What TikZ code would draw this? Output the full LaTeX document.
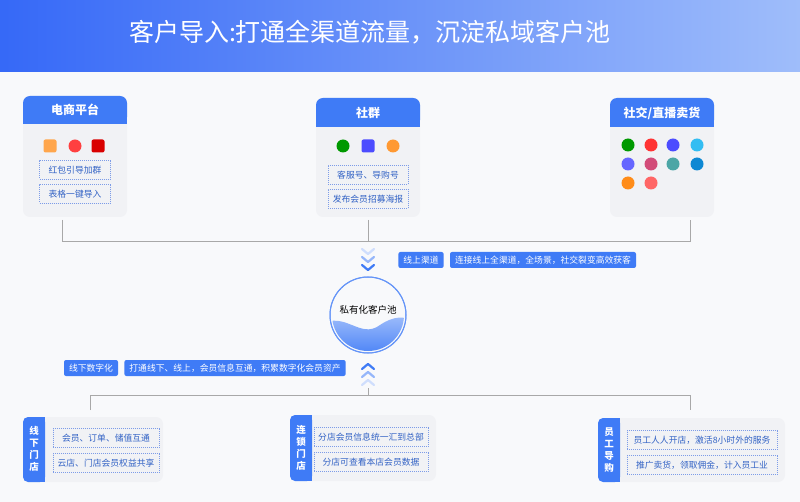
\documentclass[tikz,border=0pt]{standalone}
\usepackage{fontspec}
\setmainfont{Noto Sans CJK SC}
\usetikzlibrary{positioning, calc, shapes.geometric}
\definecolor{mainblue}{HTML}{3F7BF6}
\definecolor{cardgray}{HTML}{F1F2F5}
\definecolor{pagegray}{HTML}{F8F9FB}
\definecolor{linegray}{HTML}{A8A8A8}
\definecolor{dashblue}{HTML}{7D9CE8}
\tikzset{
  card/.style={fill=cardgray, rounded corners=7pt},
  tagbox/.style={draw=dashblue, dashed, dash pattern=on 1pt off 1pt, text=mainblue!80!black, font=\fontsize{8.8}{9}\selectfont, minimum height=19pt, inner xsep=4pt},
  bluetag/.style={fill=mainblue, text=white, rounded corners=2pt, font=\fontsize{8.8}{9}\selectfont, minimum height=16pt, inner xsep=5pt},
  link/.style={draw=linegray, line width=0.8pt},
  chev/.style={line width=2.2pt, line cap=round, line join=round},
  icon/.style={minimum size=13pt, inner sep=0pt, rounded corners=2pt}
}
\begin{document}
\begin{tikzpicture}[x=1pt, y=-1pt]
    \useasboundingbox (0,0) rectangle (800,502);
    \fill[pagegray] (0,0) rectangle (800,502);
    \shade[left color=mainblue!85!blue, right color=mainblue!50!white] (0,0) rectangle (800,72);
    \node[text=white, font=\fontsize{25}{25}\selectfont] (title) at (370,32) {客户导入:打通全渠道流量，沉淀私域客户池};

    % top cards
    \fill[card] (23,96) rectangle (127,217);
    \fill[mainblue, rounded corners=7pt] (23,96) rectangle (127,124);
    \fill[mainblue] (23,112) rectangle (127,124);
    \node[text=white, font=\fontsize{12}{12}\selectfont\bfseries] (mall) at (75,110) {电商平台};
    \node[icon, fill=orange!70] (i1) at (50,146) {};
    \node[icon, circle, fill=red!75] (i2) at (75,146) {};
    \node[icon, fill=red!85!black] (i3) at (98,146) {};
    \node[tagbox, minimum width=71pt] (mall1) at (75,170) {红包引导加群};
    \node[tagbox, minimum width=71pt] (mall2) at (75,194) {表格一键导入};

    \fill[card] (316,98) rectangle (420,217);
    \fill[mainblue, rounded corners=7pt] (316,98) rectangle (420,127);
    \fill[mainblue] (316,114) rectangle (420,127);
    \node[text=white, font=\fontsize{12}{12}\selectfont\bfseries] (group) at (368,113) {社群};
    \node[icon, circle, fill=green!60!black] (i4) at (343,146) {};
    \node[icon, fill=blue!70] (i5) at (368,146) {};
    \node[icon, circle, fill=orange!80] (i6) at (393,146) {};
    \node[tagbox, minimum width=80pt] (group1) at (368,175) {客服号、导购号};
    \node[tagbox, minimum width=80pt] (group2) at (368,199) {发布会员招募海报};

    \fill[card] (610,98) rectangle (714,217);
    \fill[mainblue, rounded corners=7pt] (610,98) rectangle (714,127);
    \fill[mainblue] (610,114) rectangle (714,127);
    \node[text=white, font=\fontsize{12}{12}\selectfont\bfseries] (social) at (662,113) {社交/直播卖货};
    \foreach \x/\y/\c [count=\k] in {628/145/green!60!black, 651/145/red!80, 673/145/blue!70, 697/145/cyan!80,
        628/164/blue!60, 651/164/purple!70, 673/164/teal!70, 697/164/cyan!70!blue,
        628/183/orange!90, 651/183/red!60}
      \node[icon, circle, fill=\c] (s\k) at (\x,\y) {};

    % collector lines
    \coordinate (ta) at (62,241);
    \coordinate (tb) at (368,241);
    \coordinate (tc) at (690,241);
    \draw[link] (62,220) -- (ta) -- (tc) -- (690,220);
    \draw[link] (368,220) -- (tb);

    % pool
    \node[circle, draw=mainblue!80, line width=1pt, minimum size=76pt] (pool) at (368,315) {};
    \begin{scope}
      \clip (pool.center) circle (36pt);
      \shade[top color=mainblue!45, bottom color=mainblue] (320,325) .. controls (345,310) and (360,340) .. (380,325) .. controls (395,315) and (405,317) .. (410,320) -- (410,360) -- (320,360) -- cycle;
    \end{scope}
    \draw[mainblue!80, line width=1pt] (pool.center) circle (38pt);
    \node[font=\fontsize{9.5}{10}\selectfont] (poollabel) at (368,310) {私有化客户池};

    % chevrons
    \foreach \yy/\cc in {249/mainblue!25, 257/mainblue!55, 265/mainblue}
      \draw[chev, \cc] (362,\yy) -- (368,\yy+5) -- (374,\yy);
    \foreach \yy/\cc in {364/mainblue, 372/mainblue!55, 380/mainblue!25}
      \draw[chev, \cc] (362,\yy+5) -- (368,\yy) -- (374,\yy+5);

    \node[bluetag] (online) at (421,260) {线上渠道};
    \node[bluetag, right=6pt of online] (onlinetxt) {连接线上全渠道，全场景，社交裂变高效获客};
    \node[bluetag] (offline) at (91,368) {线下数字化};
    \node[bluetag, right=6pt of offline] (offlinetxt) {打通线下、线上，会员信息互通，积累数字化会员资产};

    \coordinate (ba) at (90,395);
    \coordinate (bb) at (368,395);
    \coordinate (bc) at (690,395);
    \draw[link] (90,410) -- (ba) -- (bc) -- (690,410);
    \draw[link] (368,388) -- (bb);

    % bottom cards
    \fill[card] (23,417) rectangle (163,482);
    \fill[mainblue, rounded corners=5pt] (23,417) rectangle (45,482);
    \fill[mainblue] (36,417) rectangle (45,482);
    \node[text=white, font=\fontsize{9.5}{12}\selectfont\bfseries, align=center] (store) at (34,449) {线\\下\\门\\店};
    \node[tagbox, minimum width=106pt] (store1) at (106,438) {会员、订单、储值互通};
    \node[tagbox, minimum width=106pt] (store2) at (106,463) {云店、门店会员权益共享};

    \fill[card] (290,415) rectangle (436,481);
    \fill[mainblue, rounded corners=5pt] (290,415) rectangle (312,481);
    \fill[mainblue] (303,415) rectangle (312,481);
    \node[text=white, font=\fontsize{9.5}{12}\selectfont\bfseries, align=center] (chain) at (301,448) {连\\锁\\门\\店};
    \node[tagbox, minimum width=114pt] (chain1) at (371,437) {分店会员信息统一汇到总部};
    \node[tagbox, minimum width=114pt] (chain2) at (371,462) {分店可查看本店会员数据};

    \fill[card] (598,418) rectangle (785,482);
    \fill[mainblue, rounded corners=5pt] (598,418) rectangle (620,482);
    \fill[mainblue] (611,418) rectangle (620,482);
    \node[text=white, font=\fontsize{9.5}{12}\selectfont\bfseries, align=center] (staff) at (609,450) {员\\工\\导\\购};
    \node[tagbox, minimum width=150pt] (staff1) at (702,440) {员工人人开店，激活8小时外的服务};
    \node[tagbox, minimum width=150pt] (staff2) at (702,465) {推广卖货，领取佣金，计入员工业};
\end{tikzpicture}
\end{document}
